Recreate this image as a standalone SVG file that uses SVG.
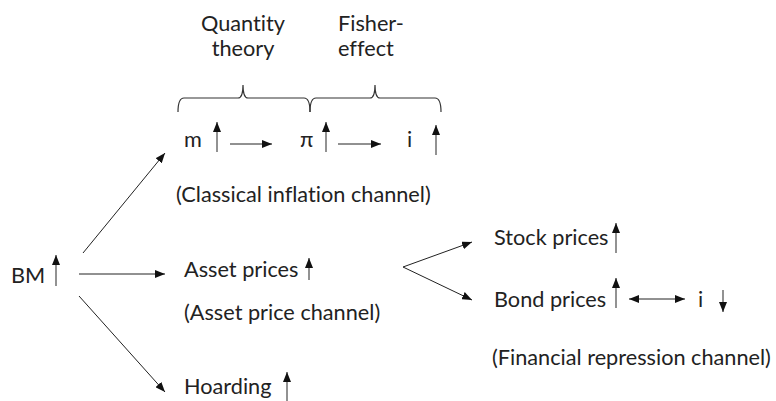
<svg xmlns="http://www.w3.org/2000/svg" width="776" height="401" viewBox="0 0 776 401">
<defs>
<marker id="ah" viewBox="0 0 10 8" refX="10" refY="4" markerWidth="10" markerHeight="8" markerUnits="userSpaceOnUse" orient="auto-start-reverse"><path d="M0,0 L10,4 L0,8 Z" fill="#111"/></marker>
<marker id="uh" viewBox="0 0 8 10" refX="4" refY="0" markerWidth="8" markerHeight="10" markerUnits="userSpaceOnUse" orient="0"><path d="M4,0 L8,10 L0,10 Z" fill="#111"/></marker>
<marker id="dh" viewBox="0 0 8 10" refX="4" refY="10" markerWidth="8" markerHeight="10" markerUnits="userSpaceOnUse" orient="0"><path d="M0,0 L8,0 L4,10 Z" fill="#111"/></marker>
</defs>
<style>
text{font-family:"Lato","Liberation Sans",sans-serif;font-size:21.7px;fill:#222;font-variant-ligatures:none}
.c{stroke:#222;stroke-width:1;fill:none}
.u{stroke:#777;stroke-width:1.6;fill:none;marker-start:url(#uh)}
.d{stroke:#777;stroke-width:1.6;fill:none;marker-end:url(#dh)}
.br{stroke:#333;stroke-width:1.2;fill:none}
</style>
<g id="labels-top">
<text x="243" y="31" text-anchor="middle">Quantity</text>
<text x="243" y="56" text-anchor="middle">theory</text>
<text x="338" y="31">Fisher-</text>
<text x="338" y="56">effect</text>
</g>
<g id="braces">
<path class="br" d="M178,112 Q178,98 184,98 L238,98 Q243,98 243,85 Q243,98 248,98 L304,98 Q310,98 310,112"/>
<path class="br" d="M310,112 Q310,98 316,98 L370,98 Q375,98 375,85 Q375,98 380,98 L435,98 Q441,98 441,112"/>
</g>
<g id="node-m"><text x="184" y="147">m</text><line class="u" x1="217" y1="122" x2="217" y2="152"/></g>
<g id="node-pi"><text x="300" y="147">π</text><line class="u" x1="326" y1="122" x2="326" y2="152"/></g>
<g id="node-i1"><text x="407" y="147">i</text><line class="u" x1="436" y1="125" x2="436" y2="155"/></g>
<g id="label-classical"><text x="176" y="202">(Classical inflation channel)</text></g>
<g id="node-bm"><text x="11" y="283">BM</text><line class="u" x1="56" y1="255" x2="56" y2="286"/></g>
<g id="node-asset"><text x="184" y="277">Asset prices</text><line class="u" x1="309" y1="258" x2="309" y2="280"/></g>
<g id="label-asset"><text x="184" y="320">(Asset price channel)</text></g>
<g id="node-hoarding"><text x="184" y="394">Hoarding</text><line class="u" x1="287" y1="372" x2="287" y2="405"/></g>
<g id="node-stock"><text x="494" y="245">Stock prices</text><line class="u" x1="616" y1="223" x2="616" y2="253"/></g>
<g id="node-bond"><text x="494" y="307">Bond prices</text><line class="u" x1="616" y1="278" x2="616" y2="308"/></g>
<g id="node-i2"><text x="698" y="307">i</text><line class="d" x1="723" y1="290" x2="723" y2="312"/></g>
<g id="label-fin"><text x="492" y="365">(Financial repression channel)</text></g>
<g id="connectors">
<line class="c" x1="230" y1="144" x2="272" y2="144" marker-end="url(#ah)"/>
<line class="c" x1="338" y1="144" x2="381" y2="144" marker-end="url(#ah)"/>
<line class="c" x1="83" y1="253" x2="165" y2="153" marker-end="url(#ah)"/>
<line class="c" x1="79" y1="274" x2="165" y2="274" marker-end="url(#ah)"/>
<line class="c" x1="79" y1="296" x2="165" y2="392" marker-end="url(#ah)"/>
<line class="c" x1="403" y1="267" x2="472" y2="242" marker-end="url(#ah)"/>
<line class="c" x1="403" y1="267" x2="472" y2="300" marker-end="url(#ah)"/>
<line class="c" x1="629" y1="299" x2="685" y2="299" marker-start="url(#ah)" marker-end="url(#ah)"/>
</g>
</svg>
